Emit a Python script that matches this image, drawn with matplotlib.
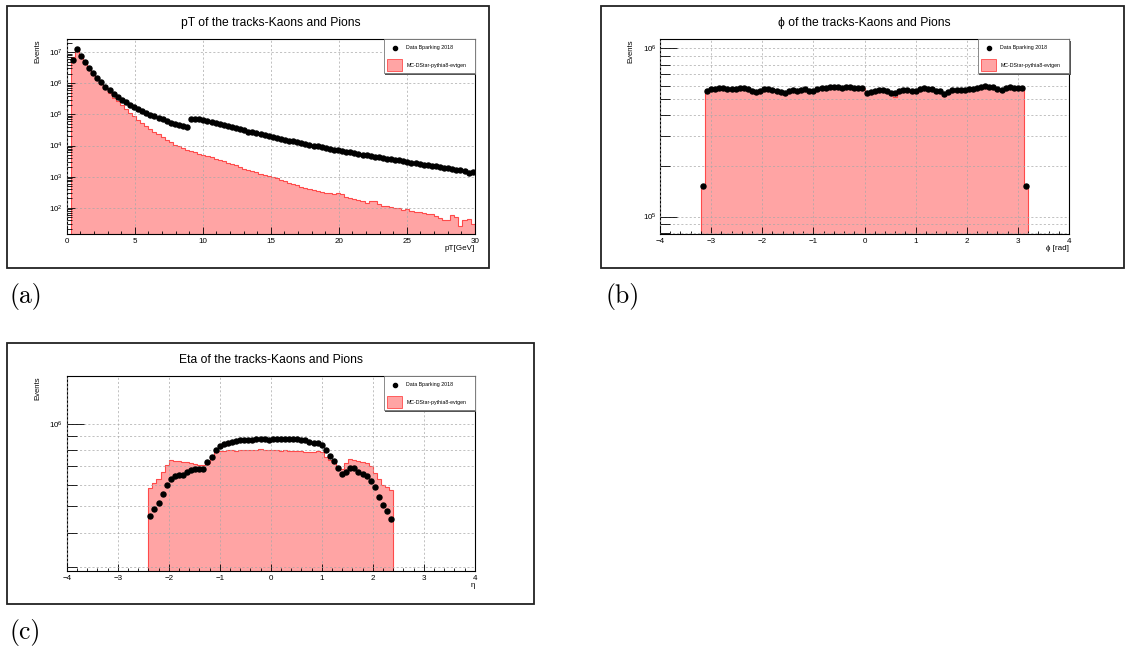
import numpy as np
import matplotlib
matplotlib.use("Agg")
import matplotlib.pyplot as plt
from matplotlib.patches import Rectangle
from matplotlib.ticker import FixedLocator, NullFormatter, LogFormatterSciNotation

plt.rcParams['font.family'] = ['Liberation Sans', 'DejaVu Sans']
plt.rcParams['mathtext.fontset'] = 'custom'
plt.rcParams['mathtext.rm'] = 'Liberation Sans'
plt.rcParams['mathtext.it'] = 'Liberation Sans:italic'
plt.rcParams['mathtext.default'] = 'regular'

# ---- data ----
# pT: 0.3 GeV bins from 0.3 to 30, values are log10(events)
pt_edges = np.linspace(0.3, 30, 100)
pt_data_log = [6.74, 7.10, 6.88, 6.68, 6.49, 6.32, 6.17, 6.03, 5.89, 5.78,
               5.66, 5.56, 5.47, 5.39, 5.31, 5.25, 5.18, 5.11, 5.05, 4.99,
               4.94, 4.88, 4.84, 4.79, 4.74, 4.70, 4.66, 4.62, 4.60, 4.86,
               4.86, 4.84, 4.81, 4.78, 4.75, 4.72, 4.69, 4.66, 4.63, 4.60,
               4.56, 4.53, 4.49, 4.45, 4.42, 4.39, 4.36, 4.33, 4.30, 4.27,
               4.24, 4.22, 4.19, 4.16, 4.13, 4.10, 4.08, 4.05, 4.03, 4.00,
               3.98, 3.95, 3.92, 3.89, 3.87, 3.85, 3.82, 3.80, 3.78, 3.75,
               3.73, 3.71, 3.68, 3.67, 3.64, 3.62, 3.60, 3.58, 3.56, 3.54,
               3.52, 3.49, 3.47, 3.45, 3.43, 3.41, 3.39, 3.38, 3.35, 3.33,
               3.30, 3.28, 3.27, 3.25, 3.22, 3.20, 3.17, 3.13, 3.15]
pt_mc_log = [6.85, 7.12, 6.90, 6.69, 6.49, 6.30, 6.13, 5.98, 5.84, 5.68,
             5.54, 5.42, 5.30, 5.18, 5.06, 4.94, 4.82, 4.72, 4.63, 4.54,
             4.45, 4.36, 4.27, 4.19, 4.10, 4.03, 3.97, 3.92, 3.87, 3.82,
             3.78, 3.74, 3.70, 3.66, 3.62, 3.57, 3.53, 3.49, 3.44, 3.40,
             3.36, 3.31, 3.26, 3.22, 3.18, 3.14, 3.10, 3.06, 3.02, 2.98,
             2.94, 2.90, 2.86, 2.80, 2.76, 2.72, 2.67, 2.64, 2.60, 2.56,
             2.53, 2.50, 2.47, 2.46, 2.43, 2.48, 2.45, 2.36, 2.31, 2.29,
             2.25, 2.23, 2.16, 2.22, 2.21, 2.12, 2.06, 2.05, 2.01, 2.00,
             1.98, 1.93, 1.96, 1.90, 1.87, 1.86, 1.84, 1.81, 1.80, 1.75,
             1.68, 1.62, 1.60, 1.78, 1.70, 1.42, 1.62, 1.65, 1.49]

# phi: 0.08 rad bins from -3.2 to 3.2
phi_edges = np.linspace(-3.2, 3.2, 81)
phi_data = [1.53e5, 5.60e5, 5.73e5, 5.76e5, 5.78e5, 5.78e5, 5.76e5, 5.73e5, 5.76e5, 5.78e5,
            5.78e5, 5.76e5, 5.60e5, 5.50e5, 5.60e5, 5.76e5, 5.73e5, 5.65e5, 5.60e5, 5.50e5,
            5.40e5, 5.55e5, 5.63e5, 5.60e5, 5.68e5, 5.73e5, 5.60e5, 5.55e5, 5.73e5, 5.81e5,
            5.83e5, 5.86e5, 5.89e5, 5.86e5, 5.83e5, 5.86e5, 5.86e5, 5.83e5, 5.81e5, 5.78e5,
            5.42e5, 5.50e5, 5.60e5, 5.65e5, 5.68e5, 5.55e5, 5.42e5, 5.45e5, 5.55e5, 5.63e5,
            5.68e5, 5.55e5, 5.60e5, 5.76e5, 5.78e5, 5.73e5, 5.70e5, 5.60e5, 5.55e5, 5.38e5,
            5.50e5, 5.63e5, 5.63e5, 5.65e5, 5.68e5, 5.73e5, 5.73e5, 5.81e5, 5.91e5, 5.94e5,
            5.91e5, 5.86e5, 5.73e5, 5.68e5, 5.81e5, 5.89e5, 5.83e5, 5.81e5, 5.78e5, 1.53e5]
phi_mc = [1.55e5, 5.68e5, 5.76e5, 5.79e5, 5.80e5, 5.79e5, 5.77e5, 5.76e5, 5.78e5, 5.79e5,
          5.80e5, 5.76e5, 5.66e5, 5.58e5, 5.64e5, 5.76e5, 5.74e5, 5.70e5, 5.64e5, 5.56e5,
          5.48e5, 5.58e5, 5.66e5, 5.66e5, 5.70e5, 5.74e5, 5.66e5, 5.60e5, 5.75e5, 5.82e5,
          5.84e5, 5.86e5, 5.88e5, 5.86e5, 5.85e5, 5.86e5, 5.85e5, 5.84e5, 5.82e5, 5.80e5,
          5.50e5, 5.52e5, 5.62e5, 5.66e5, 5.68e5, 5.58e5, 5.40e5, 5.15e5, 5.52e5, 5.56e5,
          5.66e5, 5.58e5, 5.62e5, 5.76e5, 5.78e5, 5.74e5, 5.72e5, 5.64e5, 5.58e5, 5.46e5,
          5.54e5, 5.64e5, 5.66e5, 5.67e5, 5.70e5, 5.74e5, 5.75e5, 5.80e5, 5.88e5, 5.92e5,
          5.90e5, 5.86e5, 5.76e5, 5.72e5, 5.80e5, 5.88e5, 5.86e5, 5.84e5, 5.82e5, 1.55e5]

# eta: 0.08 bins from -2.4 to 2.4
eta_edges = np.linspace(-2.4, 2.4, 61)
eta_data = [4.62e5, 4.90e5, 5.15e5, 5.53e5, 6.00e5, 6.29e5, 6.47e5, 6.51e5, 6.51e5, 6.66e5,
            6.80e5, 6.85e5, 6.85e5, 6.82e5, 7.23e5, 7.60e5, 8.00e5, 8.28e5, 8.42e5, 8.49e5,
            8.57e5, 8.66e5, 8.73e5, 8.73e5, 8.76e5, 8.76e5, 8.78e5, 8.84e5, 8.84e5, 8.73e5,
            8.81e5, 8.84e5, 8.84e5, 8.84e5, 8.84e5, 8.84e5, 8.81e5, 8.76e5, 8.73e5, 8.58e5,
            8.53e5, 8.51e5, 8.40e5, 8.02e5, 7.66e5, 7.30e5, 6.90e5, 6.54e5, 6.69e5, 6.90e5,
            6.90e5, 6.67e5, 6.54e5, 6.47e5, 6.17e5, 5.86e5, 5.43e5, 5.05e5, 4.83e5, 4.50e5]
eta_mc = [5.83e5, 6.08e5, 6.30e5, 6.67e5, 7.10e5, 7.36e5, 7.34e5, 7.30e5, 7.28e5, 7.23e5,
          7.19e5, 7.15e5, 7.08e5, 7.06e5, 7.22e5, 7.62e5, 7.88e5, 7.98e5, 7.99e5, 8.00e5,
          8.01e5, 7.99e5, 8.02e5, 8.03e5, 8.05e5, 8.04e5, 8.06e5, 8.07e5, 8.05e5, 8.03e5,
          8.03e5, 8.02e5, 7.99e5, 8.00e5, 7.98e5, 7.97e5, 7.96e5, 7.93e5, 7.92e5, 7.88e5,
          7.90e5, 7.95e5, 7.90e5, 7.57e5, 7.40e5, 7.19e5, 7.00e5, 6.84e5, 7.19e5, 7.45e5,
          7.36e5, 7.30e5, 7.28e5, 7.19e5, 7.00e5, 6.61e5, 6.30e5, 6.00e5, 5.87e5, 5.74e5]

legend_data = "Data Bparking 2018"
legend_mc = "MC-DStar-pythia8-evtgen"

W, H = 1126, 651
fig = plt.figure(figsize=(W / 100, H / 100), dpi=100)

FILL = '#ffa4a4'
EDGE = '#ff4a4a'
GRID = dict(color='#a8a8a8', lw=0.5, ls=(0, (3, 3)))


def px_rect(x0, y0, x1, y1):
    # pixel box (top-left origin) -> figure fraction [l, b, w, h]
    return [x0 / W, 1 - y1 / H, (x1 - x0) / W, (y1 - y0) / H]


def panel(axrect, boxrect, edges, data, mc, title, xlabel, xlim, ylim,
          xmajor, xminor, ymajor, yminor, minor_grid, ytick_len):
    l, b, w, h = px_rect(*boxrect)
    fig.add_artist(Rectangle((l, b), w, h, transform=fig.transFigure,
                             fill=False, lw=1.3, edgecolor='#222222'))
    ax = fig.add_axes(px_rect(*axrect))
    centers = 0.5 * (edges[:-1] + edges[1:])
    ax.stairs(mc, edges, baseline=1, fill=True, color=FILL, lw=0, zorder=1)
    ax.stairs(mc, edges, baseline=1, color=EDGE, lw=0.8, zorder=1.2)
    ax.plot(centers, data, 'o', color='black', ms=3.6, zorder=3)
    ax.set_yscale('log')
    ax.set_xlim(*xlim)
    ax.set_ylim(*ylim)
    ax.xaxis.set_major_locator(FixedLocator(xmajor))
    ax.xaxis.set_minor_locator(FixedLocator(xminor))
    ax.yaxis.set_major_locator(FixedLocator(ymajor))
    ax.yaxis.set_major_formatter(LogFormatterSciNotation())
    ax.yaxis.set_minor_locator(FixedLocator(yminor))
    ax.yaxis.set_minor_formatter(NullFormatter())
    ax.set_axisbelow(False)
    ax.grid(True, axis='x', which='major', **GRID)
    ax.grid(True, axis='y', which='both' if minor_grid else 'major', **GRID)
    ax.tick_params(direction='in', which='both', top=False, right=False,
                   labelsize=5.8, width=0.6, pad=2.5)
    ax.tick_params(axis='x', which='major', length=5)
    ax.tick_params(axis='x', which='minor', length=2.5)
    ax.tick_params(axis='y', which='major', length=ytick_len[0])
    ax.tick_params(axis='y', which='minor', length=ytick_len[1])
    for s in ax.spines.values():
        s.set_linewidth(0.8)

    ax.text(0.5, 1.085, title, transform=ax.transAxes, ha='center', va='center', fontsize=8.7)
    ax.text(1.0, -0.072, xlabel, transform=ax.transAxes, ha='right', va='center', fontsize=5.8)
    ax.text(-0.071, 1.0, 'Events', transform=ax.transAxes, ha='center', va='top',
            rotation=90, fontsize=5.5)

    # legend box, top right corner of the frame
    lx0, ly0, lw_, lh = 0.777, 0.826, 0.223, 0.174
    ax.add_patch(Rectangle((lx0 + 0.004, ly0 - 0.008), lw_, lh, transform=ax.transAxes,
                           facecolor='#555555', edgecolor='none', zorder=5, clip_on=False))
    ax.add_patch(Rectangle((lx0, ly0), lw_, lh, transform=ax.transAxes,
                           facecolor='white', edgecolor='#777777', lw=0.6, zorder=6, clip_on=False))
    ax.plot([0.8047], [0.957], 'o', color='black', ms=3.0, transform=ax.transAxes,
            zorder=7, clip_on=False)
    ax.text(0.832, 0.957, legend_data, transform=ax.transAxes, ha='left', va='center',
            fontsize=3.8, zorder=7)
    ax.add_patch(Rectangle((0.784, 0.838), 0.0385, 0.06, transform=ax.transAxes,
                           facecolor=FILL, edgecolor=EDGE, lw=0.6, zorder=7))
    ax.text(0.832, 0.868, legend_mc, transform=ax.transAxes, ha='left', va='center',
            fontsize=3.8, zorder=7)
    return ax


minors_log = [m * 10.0 ** e for e in range(0, 8) for m in range(2, 10)]

panel((66.7, 39.3, 474.7, 234.3), (7, 6, 489, 268), pt_edges,
      10 ** np.array(pt_data_log), 10 ** np.array(pt_mc_log),
      'pT of the tracks-Kaons and Pions', 'pT[GeV]', (0, 30), (14, 2.6e7),
      [0, 5, 10, 15, 20, 25, 30], list(range(0, 31)),
      [1e2, 1e3, 1e4, 1e5, 1e6, 1e7], minors_log, False, (6, 3.5))

panel((660, 39.3, 1069, 234.3), (601, 6, 1124, 268), phi_edges,
      phi_data, phi_mc,
      '\u03d5 of the tracks-Kaons and Pions', '\u03d5 [rad]', (-4, 4), (7.85e4, 1.13e6),
      list(range(-4, 5)), list(np.arange(-4, 4.01, 0.2)),
      [1e5, 1e6], minors_log, True, (12, 7))

panel((66.7, 376.3, 474.7, 571.3), (7, 343, 534, 604), eta_edges,
      eta_data, eta_mc,
      'Eta of the tracks-Kaons and Pions', '\u03b7', (-4, 4), (2.9e5, 1.49e6),
      list(range(-4, 5)), list(np.arange(-4, 4.01, 0.2)),
      [1e6], minors_log, True, (12, 7))

# sub-figure labels
for txt, x, y in [('(a)', 10, 297), ('(b)', 605, 297), ('(c)', 10, 633)]:
    fig.text(x / W, 1 - y / H, txt, family='cmr10', fontsize=18.5, ha='left', va='center')

fig.savefig('out.png', dpi=100)
